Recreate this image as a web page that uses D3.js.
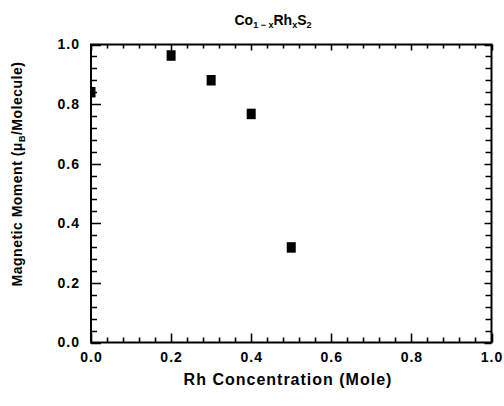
<!DOCTYPE html>
<html>
<head>
<meta charset="utf-8">
<script src="https://cdn.jsdelivr.net/npm/d3@7"></script>
<style>
  body { margin: 0; background: #fff; }
  svg { display: block; font-family: "Liberation Sans", Arial, sans-serif; font-weight: bold; }
</style>
</head>
<body>
<div id="chart"></div>
<script>
// Rh concentration (mole) and magnetic moment (muB / molecule)
var rhConc = [0.0, 0.2, 0.3, 0.4, 0.5];
var moment = [0.84, 0.963, 0.88, 0.767, 0.319];
var xTickLabels = ["0.0", "0.2", "0.4", "0.6", "0.8", "1.0"];
var yTickLabels = ["0.0", "0.2", "0.4", "0.6", "0.8", "1.0"];

var w = 504, h = 406;
var pLeft = 91, pRight = 491.5, pTop = 44.5, pBottom = 342.5;

var svg = d3.select("#chart").append("svg")
    .attr("width", w)
    .attr("height", h);

var x = d3.scaleLinear().domain([0, 1]).range([pLeft, pRight]);
var y = d3.scaleLinear().domain([0, 1]).range([pBottom, pTop]);

var majorX = xTickLabels.map(Number);
var majorY = yTickLabels.map(Number);
var minorTicks = d3.range(1, 25).map(function(i) { return i * 0.04; })
    .filter(function(v, i) { return (i + 1) % 5 !== 0; });

// data markers, cut at the left edge of the box
var mw = 9, mh = 10.5;
svg.append("g")
    .selectAll("rect")
    .data(rhConc)
    .enter()
    .append("rect")
    .attr("x", function(d) { return Math.max(x(d) - mw / 2, pLeft); })
    .attr("y", function(d, i) { return y(moment[i]) - mh / 2; })
    .attr("width", function(d) { return x(d) + mw / 2 - Math.max(x(d) - mw / 2, pLeft); })
    .attr("height", mh)
    .attr("fill", "#000");

// tick marks built as one path per side (inward)
function tickPath(vals, scale, len, side) {
    return vals.map(function(d) {
        var p = Math.round(scale(d)) + 0.5;
        if (side === "b") return "M" + p + "," + pBottom + "V" + (pBottom - len);
        if (side === "t") return "M" + p + "," + pTop + "V" + (pTop + len);
        if (side === "l") return "M" + pLeft + "," + p + "H" + (pLeft + len);
        return "M" + pRight + "," + p + "H" + (pRight - len);
    }).join("");
}
var tickSpecs = [
    [majorX, x, 9, "b"], [minorTicks, x, 5, "b"],
    [majorX, x, 6, "t"], [minorTicks, x, 4, "t"],
    [majorY, y, 10, "l"], [minorTicks, y, 6, "l"],
    [majorY, y, 7, "r"], [minorTicks, y, 6, "r"]
];
svg.append("g")
    .selectAll("path")
    .data(tickSpecs)
    .enter()
    .append("path")
    .attr("d", function(s) { return tickPath(s[0], s[1], s[2], s[3]); })
    .attr("fill", "none")
    .style("stroke", "#000")
    .style("stroke-width", "1.6px");

// frame
svg.append("path")
    .attr("d", "M" + pLeft + "," + pTop + "H" + pRight + "V" + pBottom + "H" + pLeft + "Z")
    .attr("fill", "none")
    .style("stroke", "#000")
    .style("stroke-width", "2px");

// tick labels through d3 axes (tick lines hidden)
function styleLabels(g) {
    g.select(".domain").remove();
    g.selectAll("line").remove();
    g.selectAll("text")
        .attr("fill", "#000")
        .attr("font-size", "14px")
        .attr("font-weight", "bold")
        .attr("letter-spacing", "1px");
}
svg.append("g")
    .attr("transform", "translate(0," + pBottom + ")")
    .call(d3.axisBottom(x).tickValues(majorX).tickSize(0).tickPadding(10)
        .tickFormat(function(d, i) { return xTickLabels[i]; }))
    .call(styleLabels);
svg.append("g")
    .attr("transform", "translate(" + pLeft + ",0)")
    .call(d3.axisLeft(y).tickValues(majorY).tickSize(0).tickPadding(11)
        .tickFormat(function(d, i) { return yTickLabels[i]; }))
    .call(styleLabels);

// title with subscripts
var chartTitle = svg.append("text")
    .attr("x", 273)
    .attr("y", 25)
    .attr("text-anchor", "middle")
    .attr("font-size", "14px")
    .attr("fill", "#000");
chartTitle.append("tspan").text("Co");
chartTitle.append("tspan").attr("font-size", "9px").attr("dy", 3).text("1 \u2212 x");
chartTitle.append("tspan").attr("dy", -3).text("Rh");
chartTitle.append("tspan").attr("font-size", "9px").attr("dy", 3).text("x");
chartTitle.append("tspan").attr("dy", -3).text("S");
chartTitle.append("tspan").attr("font-size", "9px").attr("dy", 3).text("2");

// x axis title
svg.append("text")
    .attr("x", 288)
    .attr("y", 385)
    .attr("text-anchor", "middle")
    .attr("font-size", "16px")
    .attr("letter-spacing", "1px")
    .attr("fill", "#000")
    .text("Rh Concentration (Mole)");

// y axis title
var ytitle = svg.append("text")
    .attr("transform", "translate(22,174) rotate(-90)")
    .attr("text-anchor", "middle")
    .attr("font-size", "14px")
    .attr("letter-spacing", "0.5px")
    .attr("fill", "#000");
ytitle.append("tspan").text("Magnetic Moment (\u03bc");
ytitle.append("tspan").attr("font-size", "9px").attr("dy", 3).text("B");
ytitle.append("tspan").attr("dy", -3).text("/Molecule)");
</script>
</body>
</html>
